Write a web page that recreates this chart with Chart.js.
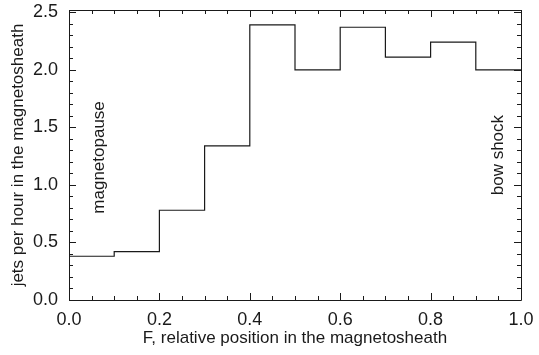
<!DOCTYPE html>
<html>
<head>
<meta charset="utf-8">
<script src="https://cdn.jsdelivr.net/npm/chart.js@4"></script>
<style>
  html, body { margin: 0; padding: 0; background: #fff; }
  canvas { display: block; }
</style>
</head>
<body>
<canvas id="jetsChart" width="539" height="355"></canvas>
<script>
// bin edges along F and the jet rate in each bin
const binEdges = [0.0, 0.1, 0.2, 0.3, 0.4, 0.5, 0.6, 0.7, 0.8, 0.9, 1.0];
const jetsPerHour = [0.38, 0.42, 0.78, 1.34, 2.39, 2.00, 2.37, 2.11, 2.24, 2.00];

const xTicks = [0.0, 0.2, 0.4, 0.6, 0.8, 1.0];
const yTicks = [0.0, 0.5, 1.0, 1.5, 2.0, 2.5];
const xMinorStep = 0.05;
const yMinorStep = 0.1;

// region labels: [text, F position, y where the text starts]
const regionLabels = [
  ["magnetopause", 0.066, 0.75],
  ["bow shock", 0.949, 0.91]
];

const FONT = "'Liberation Sans', Arial, Helvetica, sans-serif";
const INK = "#1a1a1a";

// step points: each value holds from its left edge to the next edge
const stepPoints = jetsPerHour.map((v, i) => ({ x: binEdges[i], y: v }));
stepPoints.push({ x: binEdges[binEdges.length - 1], y: jetsPerHour[jetsPerHour.length - 1] });

// IDL style box with inward ticks on all four sides
const frameTicks = {
  id: "frameTicks",
  afterDraw(chart) {
    const { ctx, chartArea: a, scales } = chart;
    const xs = scales.x, ys = scales.y;
    ctx.save();
    ctx.strokeStyle = INK;
    ctx.lineWidth = 1;
    ctx.beginPath();
    ctx.rect(Math.round(a.left) + 0.5, Math.round(a.top) + 0.5,
             Math.round(a.right - a.left), Math.round(a.bottom - a.top));

    const isMajor = (v, list) => list.some(t => Math.abs(t - v) < 1e-6);

    for (let v = xs.min; v <= xs.max + 1e-9; v += xMinorStep) {
      const len = isMajor(v, xTicks) ? 7 : 4;
      const px = Math.round(xs.getPixelForValue(v)) + 0.5;
      ctx.moveTo(px, a.bottom); ctx.lineTo(px, a.bottom - len);
      ctx.moveTo(px, a.top); ctx.lineTo(px, a.top + len);
    }
    for (let v = 0; v <= ys.max + 1e-9; v += yMinorStep) {
      const len = isMajor(Math.round(v * 10) / 10, yTicks) ? 7 : 4;
      const py = Math.round(ys.getPixelForValue(v)) + 0.5;
      ctx.moveTo(a.left, py); ctx.lineTo(a.left + len, py);
      ctx.moveTo(a.right, py); ctx.lineTo(a.right - len, py);
    }
    ctx.stroke();
    ctx.restore();
  }
};

const regionText = {
  id: "regionText",
  afterDatasetsDraw(chart) {
    const { ctx, scales } = chart;
    ctx.save();
    ctx.fillStyle = INK;
    ctx.font = "17px " + FONT;
    ctx.textAlign = "left";
    ctx.textBaseline = "middle";
    regionLabels.forEach(([text, fx, fy]) => {
      ctx.save();
      ctx.translate(scales.x.getPixelForValue(fx), scales.y.getPixelForValue(fy));
      ctx.rotate(-Math.PI / 2);
      ctx.fillText(text, 0, 0);
      ctx.restore();
    });
    ctx.restore();
  }
};

new Chart(document.getElementById("jetsChart"), {
  type: "line",
  data: {
    datasets: [{
      data: stepPoints,
      stepped: "before",
      borderColor: "#1a1a1a",
      borderWidth: 1.2,
      pointRadius: 0,
      fill: false,
      tension: 0
    }]
  },
  options: {
    responsive: false,
    animation: false,
    layout: { padding: { left: 0, right: 18, top: 10, bottom: 0 } },
    plugins: {
      legend: { display: false },
      tooltip: { enabled: false }
    },
    scales: {
      x: {
        type: "linear",
        min: 0,
        max: 1,
        border: { display: false },
        grid: { display: false, drawTicks: false },
        afterFit: s => {
          s.height = 55;
          s.paddingLeft = 0;
          s.paddingRight = 0;
        },
        afterBuildTicks: s => { s.ticks = xTicks.map(v => ({ value: v })); },
        ticks: {
          padding: 9,
          color: INK,
          font: { family: FONT, size: 18 },
          callback: v => Number(v).toFixed(1)
        },
        title: {
          display: true,
          text: "F, relative position in the magnetosheath",
          color: INK,
          font: { family: FONT, size: 17 },
          padding: { top: 0, bottom: 6 }
        }
      },
      y: {
        type: "linear",
        min: 0,
        max: 2.52,
        border: { display: false },
        grid: { display: false, drawTicks: false },
        afterFit: s => {
          s.width = 69;
          s.paddingTop = 0;
          s.paddingBottom = 0;
        },
        afterBuildTicks: s => { s.ticks = yTicks.map(v => ({ value: v })); },
        ticks: {
          padding: 11,
          color: INK,
          font: { family: FONT, size: 18 },
          callback: v => Number(v).toFixed(1)
        },
        title: {
          display: true,
          text: "jets per hour in the magnetosheath",
          color: INK,
          font: { family: FONT, size: 17 },
          padding: { top: 8, bottom: 0 }
        }
      }
    }
  },
  plugins: [frameTicks, regionText]
});
</script>
</body>
</html>
